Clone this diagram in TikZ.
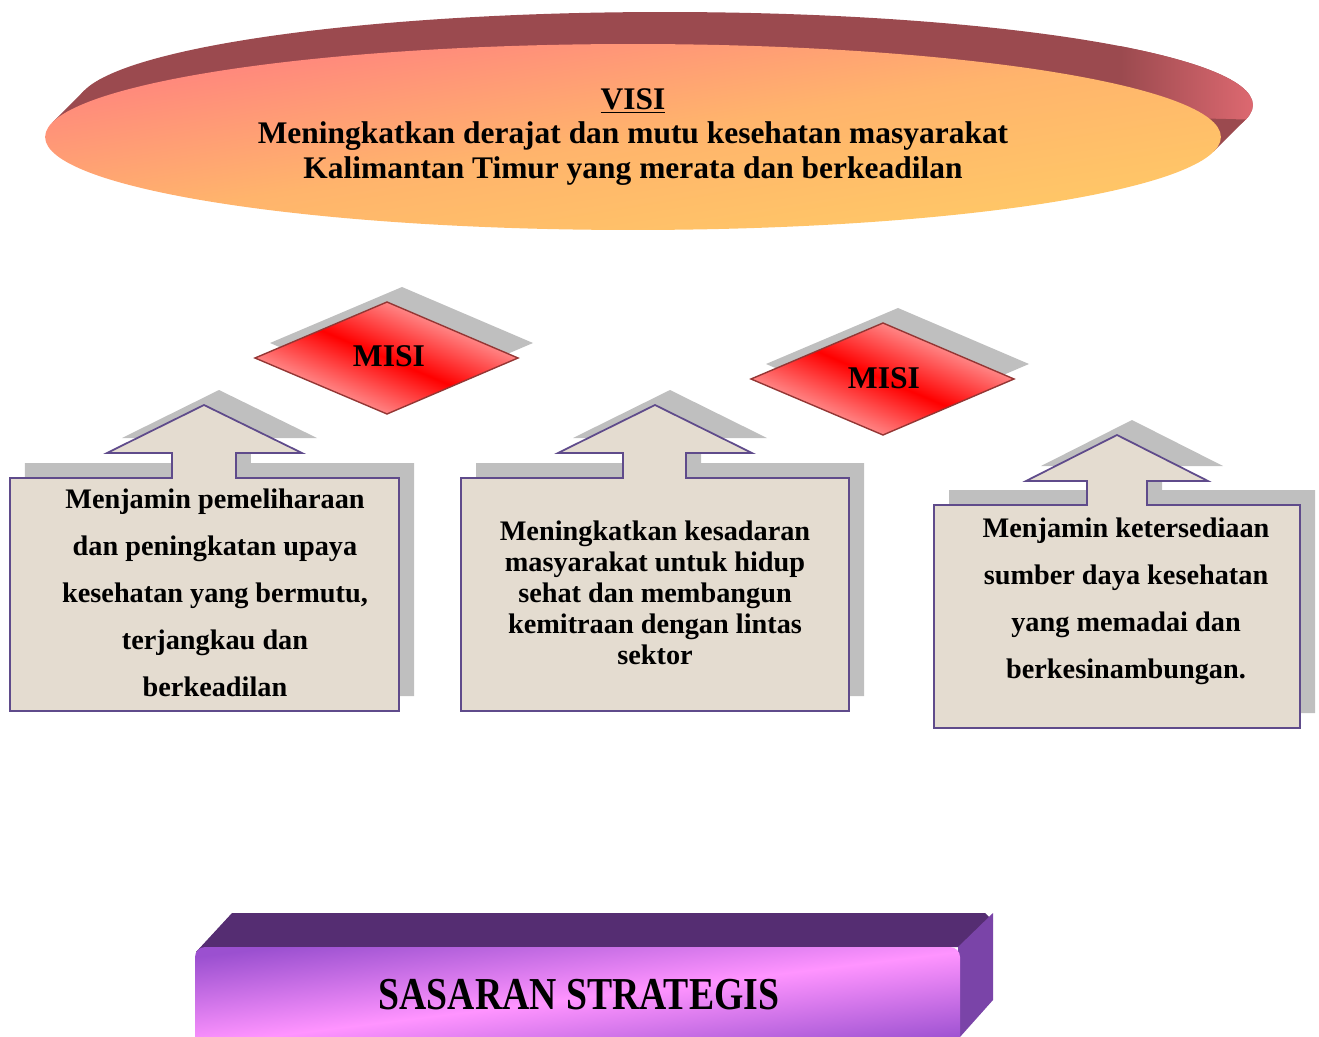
\documentclass[tikz,border=0pt]{standalone}
\usepackage{fontspec}
\setmainfont{Liberation Serif}
\usepackage{tikz}
\definecolor{visidark}{HTML}{9B4A4F}
\definecolor{visired}{HTML}{E06A72}
\definecolor{visipink}{HTML}{FF7F80}
\definecolor{visiorange}{HTML}{FFB46C}
\definecolor{visiyellow}{HTML}{FFCA66}
\definecolor{misiborder}{HTML}{943634}
\definecolor{misipink}{HTML}{FFC8C8}
\definecolor{shadowgray}{HTML}{BFBFBF}
\definecolor{paper}{HTML}{E4DCD0}
\definecolor{paperborder}{HTML}{5F4B8B}
\definecolor{sastop}{HTML}{552D72}
\definecolor{sasside}{HTML}{7A44A8}
\definecolor{sasviolet}{HTML}{9B50D0}
\definecolor{saspink}{HTML}{FF94FF}
\tikzset{
    visi back/.style={fill=visidark},
    visi tip/.style={left color=visidark, right color=visired},
    visi front/.style={top color=visipink, bottom color=visiyellow, middle color=visiorange, shading angle=9},
    visi text/.style={font=\bfseries\fontsize{17.9}{19.8}\selectfont, align=center},
    misi shadow/.style={fill=shadowgray},
    misi diamond/.style={draw=misiborder, line width=0.8pt, top color=misipink, bottom color=misipink, middle color=red, shading angle=-23},
    misi text/.style={font=\bfseries\fontsize{18}{20}\selectfont},
    arrow shadow/.style={fill=shadowgray, xshift=0.3cm, yshift=0.3cm},
    arrow box/.style={fill=paper, draw=paperborder, line width=1pt},
    box text/.style={font=\bfseries\fontsize{16.1}{#1}\selectfont, align=center},
    sas top/.style={fill=sastop},
    sas side/.style={fill=sasside},
    sas front/.style={top color=sasviolet, bottom color=sasviolet, middle color=saspink, shading angle=7, rounded corners=0.2cm},
    sas text/.style={font=\bfseries\fontsize{26}{28}\selectfont, xscale=0.825}
}
\begin{document}
\begin{tikzpicture}[x=0.02cm, y=-0.02cm]
\useasboundingbox (0,0) rectangle (1319,1037);
% visi
\fill[visi back] (665,105) ellipse [x radius=11.76cm, y radius=1.86cm];
\begin{scope}
\clip (665,105) ellipse [x radius=11.76cm, y radius=1.86cm];
\shade[visi tip] (1120,0) rectangle (1260,200);
\end{scope}
\fill[visi back] (52.3,122.5) -- (84.3,90.5) -- (1245.7,119.5) -- (1213.7,151.5) -- cycle;
\shade[visi front] (633,137) ellipse [x radius=11.76cm, y radius=1.86cm];
\node[visi text] (visi) at (633,137) {\underline{VISI}\\Meningkatkan derajat dan mutu kesehatan masyarakat\\Kalimantan Timur yang merata dan berkeadilan};
% misi boxes
\fill[arrow shadow] (10,478) -- (172,478) -- (172,453) -- (107,453) -- (204,405) -- (302,453) -- (236,453) -- (236,478) -- (399,478) -- (399,711) -- (10,711) -- cycle;
\filldraw[arrow box] (10,478) -- (172,478) -- (172,453) -- (107,453) -- (204,405) -- (302,453) -- (236,453) -- (236,478) -- (399,478) -- (399,711) -- (10,711) -- cycle;
\node[box text=26.7] (misiA) at (215,593) {Menjamin pemeliharaan\\dan peningkatan upaya\\kesehatan yang bermutu,\\terjangkau dan\\berkeadilan};
\fill[arrow shadow] (461,478) -- (623,478) -- (623,453) -- (558,453) -- (655,405) -- (752,453) -- (686,453) -- (686,478) -- (849,478) -- (849,711) -- (461,711) -- cycle;
\filldraw[arrow box] (461,478) -- (623,478) -- (623,453) -- (558,453) -- (655,405) -- (752,453) -- (686,453) -- (686,478) -- (849,478) -- (849,711) -- (461,711) -- cycle;
\node[box text=17.6] (misiB) at (655,593) {Meningkatkan kesadaran\\masyarakat untuk hidup\\sehat dan membangun\\kemitraan dengan lintas\\sektor};
\fill[arrow shadow] (934,505) -- (1087,505) -- (1087,481) -- (1026,481) -- (1117,435) -- (1208,481) -- (1147,481) -- (1147,505) -- (1300,505) -- (1300,728) -- (934,728) -- cycle;
\filldraw[arrow box] (934,505) -- (1087,505) -- (1087,481) -- (1026,481) -- (1117,435) -- (1208,481) -- (1147,481) -- (1147,505) -- (1300,505) -- (1300,728) -- (934,728) -- cycle;
\node[box text=26.7] (misiC) at (1126,601) {Menjamin ketersediaan\\sumber daya kesehatan\\yang memadai dan\\berkesinambungan.};
% misi diamonds
\fill[misi shadow] (270,343) -- (402,287) -- (533,343) -- (402,399) -- cycle;
\shade[misi diamond] (255,358) -- (387,302) -- (518,358) -- (387,414) -- cycle;
\node[misi text] (misiL) at (389,356) {MISI};
\fill[misi shadow] (766,364) -- (898,308) -- (1029,364) -- (898,420) -- cycle;
\shade[misi diamond] (751,379) -- (883,323) -- (1014,379) -- (883,435) -- cycle;
\node[misi text] (misiR) at (884,378) {MISI};
% sasaran
\fill[sas top] (196,952) -- (232,913) -- (985,913) -- (993,921) -- (960,947) -- cycle;
\fill[sas side] (958,947) -- (993,913) -- (993,1000) -- (960,1037) -- cycle;
\shade[sas front] (195,947) rectangle (960,1050);
\node[sas text] (sasaran) at (579,995) {SASARAN STRATEGIS};
\end{tikzpicture}
\end{document}
